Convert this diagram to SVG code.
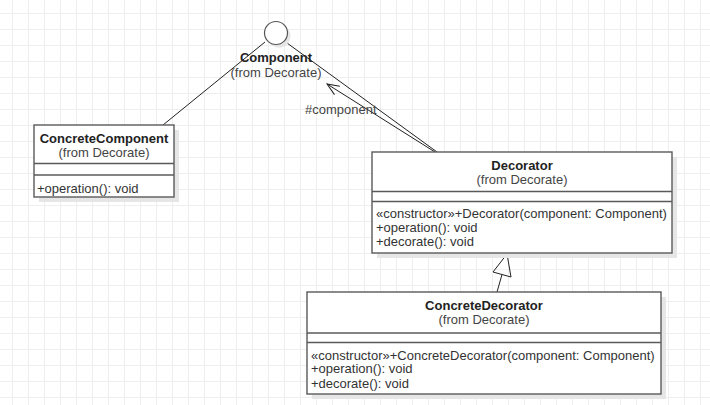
<svg xmlns="http://www.w3.org/2000/svg" width="710" height="405" viewBox="0 0 710 405">
  <defs>
    <pattern id="grid" x="12" y="13" width="16" height="16" patternUnits="userSpaceOnUse">
      <path d="M0 0.5 H16 M0.5 0 V16" fill="none" stroke="#eeeeee" stroke-width="1"/>
    </pattern>
    <marker id="openArrow" markerWidth="14" markerHeight="12" refX="13" refY="6" orient="auto" markerUnits="userSpaceOnUse">
      <path d="M1 1 L13 6 L1 11" fill="none" stroke="#222" stroke-width="1"/>
    </marker>
  </defs>
  <style>
    .box { fill: #ffffff; stroke: #5a5a5a; stroke-width: 1.4; }
    .shadow { fill: #e6e6e6; }
    .div { stroke: #5a5a5a; stroke-width: 1.4; }
    .conn { fill: none; stroke: #222; stroke-width: 1; }
    .name { font-family: "Liberation Sans", Arial, sans-serif; font-size: 13px; font-weight: bold; fill: #222; text-anchor: middle; }
    .from { font-family: "Liberation Sans", Arial, sans-serif; font-size: 13px; fill: #444; text-anchor: middle; }
    .op { font-family: "Liberation Sans", Arial, sans-serif; font-size: 13px; fill: #333; }
    .lbl { font-family: "Liberation Sans", Arial, sans-serif; font-size: 13px; fill: #444; }
  </style>
  <rect width="710" height="405" fill="#ffffff"/>
  <rect width="710" height="405" fill="url(#grid)"/>

  <g id="connectors">
    <line class="conn" x1="265" y1="42" x2="163" y2="125"/>
    <line class="conn" x1="287" y1="43" x2="437" y2="152"/>
    <line class="conn" x1="435" y1="152" x2="327" y2="84" marker-end="url(#openArrow)"/>
    <text class="lbl" x="305" y="114">#component</text>
    <line class="conn" x1="497" y1="292" x2="502" y2="274.5"/>
    <polygon class="conn" points="507,254 493,272 511,277" fill="#ffffff"/>
  </g>

  <g id="Component">
    <circle class="shadow" cx="279" cy="36" r="11.5"/>
    <circle cx="276" cy="33" r="11.5" fill="#ffffff" stroke="#555" stroke-width="1.2"/>
    <text class="name" x="276" y="62">Component</text>
    <text class="from" x="276" y="77">(from Decorate)</text>
  </g>

  <g id="ConcreteComponent">
    <rect class="shadow" x="39" y="130" width="140" height="72"/>
    <rect class="box" x="34" y="125" width="140" height="72"/>
    <line class="div" x1="34" y1="163.5" x2="174" y2="163.5"/>
    <line class="div" x1="34" y1="175" x2="174" y2="175"/>
    <text class="name" x="104" y="142.5">ConcreteComponent</text>
    <text class="from" x="104" y="157">(from Decorate)</text>
    <text class="op" x="37" y="192.5">+operation(): void</text>
  </g>

  <g id="Decorator">
    <rect class="shadow" x="377" y="157" width="300" height="101"/>
    <rect class="box" x="372" y="152" width="300" height="101"/>
    <line class="div" x1="372" y1="191.5" x2="672" y2="191.5"/>
    <line class="div" x1="372" y1="201.5" x2="672" y2="201.5"/>
    <text class="name" x="522" y="169.5">Decorator</text>
    <text class="from" x="522" y="184">(from Decorate)</text>
    <text class="op" x="376" y="218">«constructor»+Decorator(component: Component)</text>
    <text class="op" x="376" y="231.5">+operation(): void</text>
    <text class="op" x="376" y="246">+decorate(): void</text>
  </g>

  <g id="ConcreteDecorator">
    <rect class="shadow" x="312" y="297" width="354" height="102"/>
    <rect class="box" x="307" y="292" width="354" height="102"/>
    <line class="div" x1="307" y1="333" x2="661" y2="333"/>
    <line class="div" x1="307" y1="342.5" x2="661" y2="342.5"/>
    <text class="name" x="484" y="310">ConcreteDecorator</text>
    <text class="from" x="484" y="324">(from Decorate)</text>
    <text class="op" x="311" y="359.5">«constructor»+ConcreteDecorator(component: Component)</text>
    <text class="op" x="311" y="373">+operation(): void</text>
    <text class="op" x="311" y="388">+decorate(): void</text>
  </g>
</svg>
